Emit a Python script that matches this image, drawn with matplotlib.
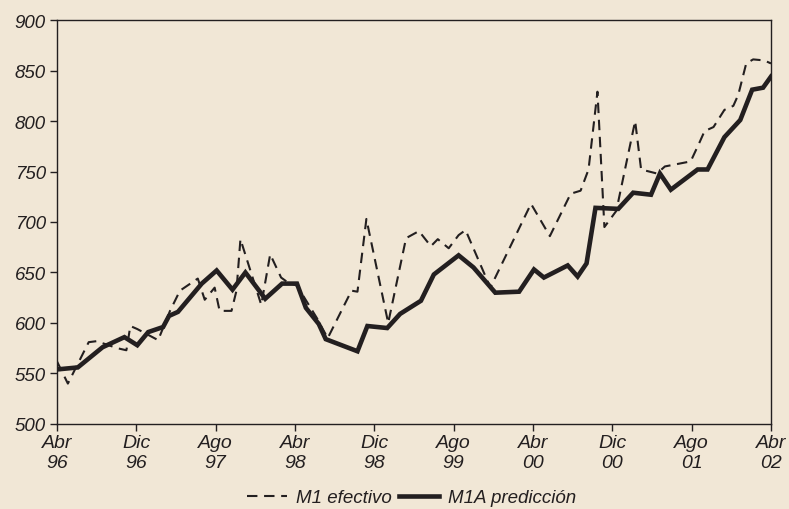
import matplotlib
matplotlib.use("Agg")
import matplotlib.pyplot as plt
from matplotlib.lines import Line2D

# meses desde Abr 96 (0) hasta Abr 02 (72)
t_pred = [0.0, 2.1, 4.6, 6.8, 8.1, 9.2, 10.7, 11.3, 12.2, 13.4, 14.6, 16.1, 17.7, 19.0,
          21.0, 22.7, 24.2, 25.1, 26.4, 27.1, 30.3, 31.3, 33.3, 34.6, 36.7, 38.0, 40.5,
          42.0, 44.2, 46.6, 48.1, 49.1, 51.5, 52.5, 53.4, 54.3, 56.6, 58.1, 59.9, 60.8,
          61.9, 64.6, 65.6, 67.3, 68.9, 70.1, 71.2, 72.0]
m1a_pred = [554, 556, 576, 586, 578, 591, 596, 607, 611, 625, 639, 652, 633, 650,
            624, 639, 639, 615, 599, 584, 572, 597, 595, 609, 622, 648, 667,
            655, 630, 631, 653, 645, 657, 646, 659, 714, 713, 729, 727, 748,
            732, 752, 752, 784, 801, 831, 833, 844]

t_efec = [0.0, 1.1, 3.2, 4.0, 6.1, 7.0, 7.4, 8.1, 10.2, 11.4, 12.4, 14.2, 14.9, 15.9,
          16.4, 17.6, 18.1, 18.5, 20.6, 21.5, 22.6, 23.3, 24.2, 26.2, 27.3, 29.7, 30.3,
          31.2, 33.4, 35.2, 36.5, 37.7, 38.4, 39.5, 40.5, 41.2, 43.7, 47.8, 49.7, 51.8,
          52.8, 53.6, 54.5, 55.2, 56.4, 58.3, 58.9, 60.5, 61.3, 63.9, 64.8, 65.3, 66.2,
          67.3, 68.2, 68.7, 69.5, 70.2, 71.3, 72.0]
m1_efec = [562, 540, 581, 582, 575, 573, 597, 594, 583, 612, 632, 644, 623, 635,
           612, 612, 632, 683, 618, 668, 645, 640, 637, 605, 585, 632, 631,
           703, 600, 684, 691, 676, 683, 674, 687, 692, 635, 718, 686, 728,
           731, 752, 829, 695, 711, 800, 752, 748, 755, 760, 779, 790, 794,
           811, 815, 826, 857, 861, 860, 857]

xticks = [0, 8, 16, 24, 32, 40, 48, 56, 64, 72]
xlabels = ["Abr\n96", "Dic\n96", "Ago\n97", "Abr\n98", "Dic\n98",
           "Ago\n99", "Abr\n00", "Dic\n00", "Ago\n01", "Abr\n02"]
yticks = [500, 550, 600, 650, 700, 750, 800, 850, 900]

bg = "#f1e7d6"
ink = "#231f20"
plt.rcParams["font.family"] = ["Liberation Sans", "DejaVu Sans"]
plt.rcParams["font.style"] = "italic"
fs = 13.5

fig = plt.figure(figsize=(7.89, 5.10), dpi=100, facecolor=bg)
ax = fig.add_axes([0.0722, 0.1667, 0.9050, 0.7921], facecolor=bg)

ax.plot(t_efec, m1_efec, color=ink, lw=1.5, dashes=(5, 3.2))
ax.plot(t_pred, m1a_pred, color=ink, lw=3.3, solid_joinstyle="miter")

ax.set_xlim(0, 72)
ax.set_ylim(500, 900)
ax.set_xticks(xticks)
ax.set_xticklabels(xlabels, fontsize=14, linespacing=1.25)
ax.set_yticks(yticks)
ax.set_yticklabels([str(v) for v in yticks], fontsize=fs)
ax.tick_params(axis="both", direction="out", length=5, width=1, color=ink, labelcolor=ink)
ax.tick_params(axis="x", pad=2)
ax.tick_params(axis="y", pad=3)
for s in ax.spines.values():
    s.set_color(ink)
    s.set_linewidth(1.0)

handles = [Line2D([], [], color=ink, lw=1.5, dashes=(5, 3.2)),
           Line2D([], [], color=ink, lw=3.3)]
fig.legend(handles, ["M1 efectivo", "M1A predicción"], loc="center",
           bbox_to_anchor=(0.522, 0.022), ncol=2, frameon=False, fontsize=fs,
           handlelength=2.1, handletextpad=0.5, columnspacing=0.4, labelcolor=ink)

fig.savefig("out.png", dpi=100, facecolor=bg)
